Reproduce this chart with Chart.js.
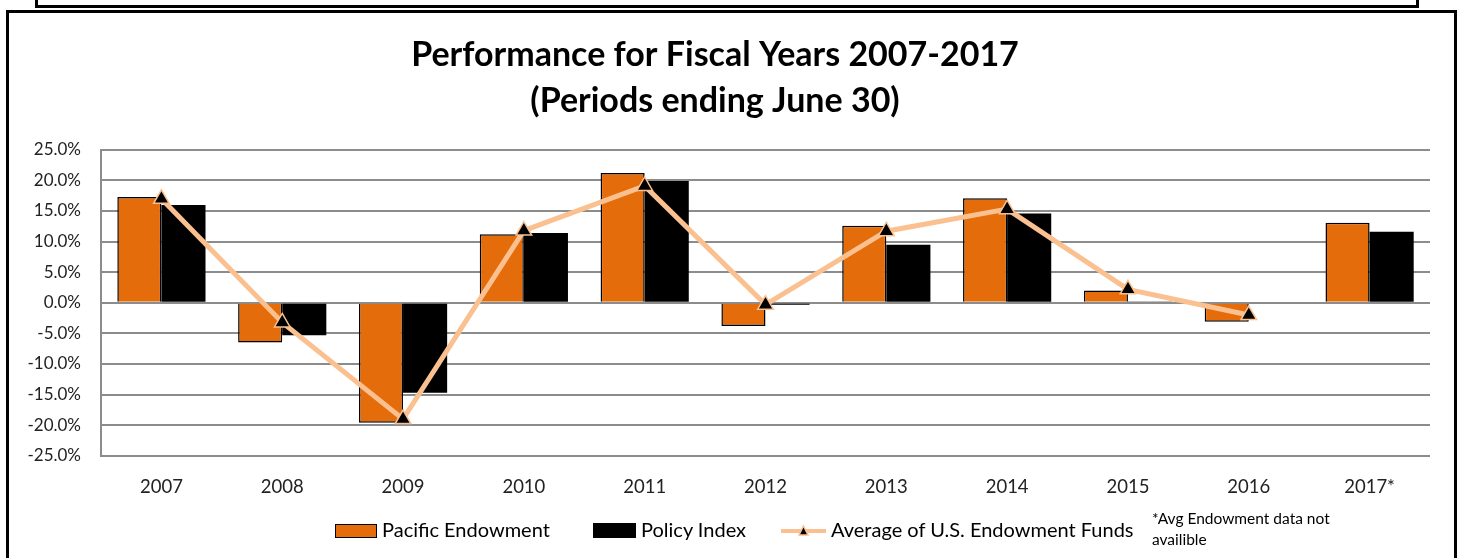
<!DOCTYPE html>
<html>
<head>
<meta charset="utf-8">
<script src="https://cdn.jsdelivr.net/npm/chart.js@4.4.1/dist/chart.umd.min.js"></script>
<style>
  html, body { margin: 0; padding: 0; background: #fff; }
  body { width: 1460px; height: 558px; position: relative; overflow: hidden; font-family: Lato, "Open Sans", sans-serif; }
  #topBox { position: absolute; left: 35px; top: -10px; width: 1378px; height: 12px; border: 3px solid #000; }
  #frame { position: absolute; left: 6px; top: 10px; width: 1445px; height: 560px; border: 3px solid #000; }
  #wrap { position: absolute; left: 0; top: 0; width: 1460px; height: 558px; }
  .leg { position: absolute; top: 516px; font-size: 20px; color: #000; white-space: nowrap; line-height: 26px; }
  .sw { display: inline-block; vertical-align: middle; margin-right: 5px; position: relative; top: -1px; }
  #note { position: absolute; left: 1152px; top: 508px; font-size: 15.5px; line-height: 21px; color: #000; }
</style>
</head>
<body>
<div id="topBox"></div>
<div id="frame"></div>
<div id="wrap"><canvas id="myChart" width="1460" height="558"></canvas></div>

<div class="leg" style="left:335px"><span class="sw" style="width:40px;height:12px;background:#E46C0A;border:1.5px solid #000"></span>Pacific Endowment</div>
<div class="leg" style="left:593px"><span class="sw" style="width:43px;height:15px;background:#000"></span>Policy Index</div>
<div class="leg" style="left:781px"><canvas id="legLine" class="sw" width="45" height="16"></canvas>Average of U.S. Endowment Funds</div>
<div id="note">*Avg Endowment data not<br>availible</div>

<script>
const years = ["2007", "2008", "2009", "2010", "2011", "2012", "2013", "2014", "2015", "2016", "2017*"];
const pacific = [17.3, -6.5, -19.6, 11.2, 21.2, -3.8, 12.6, 17.1, 2.0, -3.1, 13.1];
const policy = [16.0, -5.3, -14.7, 11.4, 19.9, -0.3, 9.5, 14.6, 0.2, 0.0, 11.6];
const avgFunds = [17.0, -3.2, -19.0, 11.8, 19.1, -0.3, 11.7, 15.3, 2.2, -2.0, null];
const yTicks = [-25, -20, -15, -10, -5, 0, 5, 10, 15, 20, 25];

const orange = "#E46C0A";
const lineCol = "#FAC090";

// small legend glyph: line with triangle
const lg = document.getElementById("legLine").getContext("2d");
lg.strokeStyle = lineCol; lg.lineWidth = 4;
lg.beginPath(); lg.moveTo(0, 8); lg.lineTo(45, 8); lg.stroke();
lg.fillStyle = "#000"; lg.lineWidth = 1.5;
lg.beginPath(); lg.moveTo(22.5, 3); lg.lineTo(27, 12); lg.lineTo(18, 12); lg.closePath(); lg.fill(); lg.stroke();

const ctx = document.getElementById("myChart").getContext("2d");
new Chart(ctx, {
  type: "bar",
  data: {
    labels: years,
    datasets: [
      {
        type: "line",
        label: "Average of U.S. Endowment Funds",
        data: avgFunds,
        borderColor: lineCol,
        borderWidth: 5,
        pointStyle: "triangle",
        pointRadius: 9,
        pointBackgroundColor: "#000",
        pointBorderColor: lineCol,
        pointBorderWidth: 1.5,
        tension: 0,
        spanGaps: false,
        order: 0,
      },
      {
        label: "Pacific Endowment",
        data: pacific,
        backgroundColor: orange,
        borderColor: "#000",
        borderWidth: 1.5,
        categoryPercentage: 0.73,
        barPercentage: 1.0,
        order: 1,
      },
      {
        label: "Policy Index",
        data: policy,
        backgroundColor: "#000",
        borderWidth: 0,
        categoryPercentage: 0.73,
        barPercentage: 1.0,
        order: 1,
      },
    ],
  },
  options: {
    responsive: false,
    animation: false,
    layout: { padding: { left: 0, right: 30, top: 0, bottom: 40 } },
    plugins: {
      legend: { display: false },
      tooltip: { enabled: false },
      title: {
        display: true,
        text: ["Performance for Fiscal Years 2007-2017", "(Periods ending June 30)"],
        color: "#000",
        font: { family: "Lato", size: 34, weight: "bold", lineHeight: 1.35 },
        padding: { top: 32, bottom: 26 },
      },
    },
    scales: {
      x: {
        grid: { display: false, drawTicks: false },
        border: { display: false },
        ticks: { color: "#222", font: { family: "Lato", size: 18.5 }, padding: 20 },
      },
      y: {
        min: -25,
        max: 25,
        afterFit: (scale) => { scale.width = 101; },
        afterBuildTicks: (scale) => { scale.ticks = yTicks.map((v) => ({ value: v })); },
        grid: { color: "#8c8c8c", lineWidth: 2, drawTicks: false },
        border: { color: "#8c8c8c", width: 2 },
        ticks: {
          color: "#222",
          font: { family: "Lato", size: 17 },
          padding: 20,
          callback: (v) => v.toFixed(1) + "%",
        },
      },
    },
  },
});
</script>
</body>
</html>
